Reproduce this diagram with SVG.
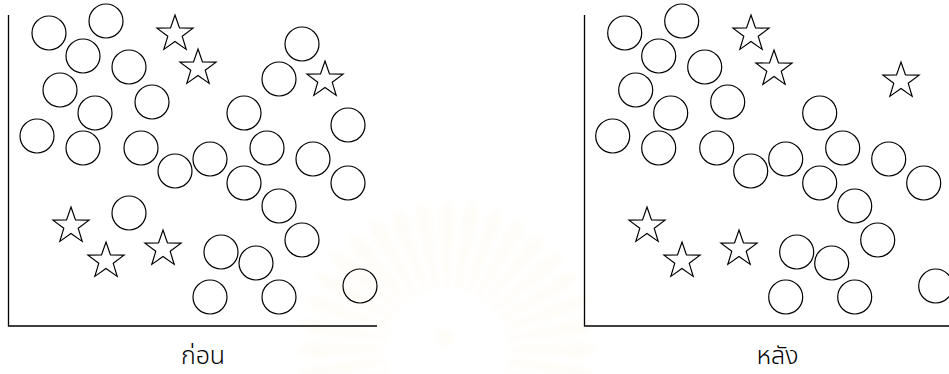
<svg xmlns="http://www.w3.org/2000/svg" xmlns:xlink="http://www.w3.org/1999/xlink" width="949" height="374" viewBox="0 0 949 374">
<style>
.c{fill:none;stroke:#000;stroke-width:1.2}
.s{fill:none;stroke:#000;stroke-width:1.2;stroke-linejoin:miter}
.ax{fill:none;stroke:#000;stroke-width:1.3}
.lbl{font-family:"Noto Sans Thai","Tahoma","DejaVu Sans","Noto Sans",sans-serif;font-size:25px;font-weight:300;fill:#000;text-anchor:middle}
</style>
<defs>
<path id="star" d="M0,-19 L4.47,-6.15 L18.07,-5.87 L7.23,2.35 L11.17,15.37 L0,7.6 L-11.17,15.37 L-7.23,2.35 L-18.07,-5.87 L-4.47,-6.15 Z"/>
<path id="ray" d="M-3,-62 L-8,-138 L0,-152 L8,-138 L3,-62 Z"/>
<radialGradient id="rg" cx="447" cy="350" r="155" gradientUnits="userSpaceOnUse">
<stop offset="0.35" stop-color="#f3d89a"/>
<stop offset="0.7" stop-color="#f9efd2"/>
<stop offset="1" stop-color="#fdfaf1"/>
</radialGradient>
<filter id="blur" x="-20%" y="-20%" width="140%" height="140%"><feGaussianBlur stdDeviation="2.5"/></filter>
</defs>
<rect width="949" height="374" fill="#fff"/>
<g id="watermark" fill="url(#rg)" filter="url(#blur)" opacity="0.5">
<g transform="translate(447,350)">
<use xlink:href="#ray" transform="rotate(-110)"/>
<use xlink:href="#ray" transform="rotate(-100)"/>
<use xlink:href="#ray" transform="rotate(-90)"/>
<use xlink:href="#ray" transform="rotate(-80)"/>
<use xlink:href="#ray" transform="rotate(-70)"/>
<use xlink:href="#ray" transform="rotate(-60)"/>
<use xlink:href="#ray" transform="rotate(-50)"/>
<use xlink:href="#ray" transform="rotate(-40)"/>
<use xlink:href="#ray" transform="rotate(-30)"/>
<use xlink:href="#ray" transform="rotate(-20)"/>
<use xlink:href="#ray" transform="rotate(-10)"/>
<use xlink:href="#ray" transform="rotate(0)"/>
<use xlink:href="#ray" transform="rotate(10)"/>
<use xlink:href="#ray" transform="rotate(20)"/>
<use xlink:href="#ray" transform="rotate(30)"/>
<use xlink:href="#ray" transform="rotate(40)"/>
<use xlink:href="#ray" transform="rotate(50)"/>
<use xlink:href="#ray" transform="rotate(60)"/>
<use xlink:href="#ray" transform="rotate(70)"/>
<use xlink:href="#ray" transform="rotate(80)"/>
<use xlink:href="#ray" transform="rotate(90)"/>
<use xlink:href="#ray" transform="rotate(100)"/>
<use xlink:href="#ray" transform="rotate(110)"/>
<circle cx="-2" cy="-12" r="9"/>
</g>
</g>
<g id="before">
<path class="ax" d="M8.5,15 V326 H377"/>
<g id="before-circles">
<circle class="c" cx="49" cy="33" r="17"/>
<circle class="c" cx="106" cy="21" r="17"/>
<circle class="c" cx="83" cy="56" r="17"/>
<circle class="c" cx="129" cy="67" r="17"/>
<circle class="c" cx="60" cy="90" r="17"/>
<circle class="c" cx="152" cy="102" r="17"/>
<circle class="c" cx="95" cy="113" r="17"/>
<circle class="c" cx="37" cy="136" r="17"/>
<circle class="c" cx="83" cy="148" r="17"/>
<circle class="c" cx="141" cy="148" r="17"/>
<circle class="c" cx="175" cy="171" r="17"/>
<circle class="c" cx="210" cy="159" r="17"/>
<circle class="c" cx="244" cy="113" r="17"/>
<circle class="c" cx="279" cy="79" r="17"/>
<circle class="c" cx="302" cy="44" r="17"/>
<circle class="c" cx="348" cy="125" r="17"/>
<circle class="c" cx="267" cy="148" r="17"/>
<circle class="c" cx="313" cy="159" r="17"/>
<circle class="c" cx="244" cy="183" r="17"/>
<circle class="c" cx="348" cy="183" r="17"/>
<circle class="c" cx="279" cy="206" r="17"/>
<circle class="c" cx="302" cy="240" r="17"/>
<circle class="c" cx="129" cy="213" r="17"/>
<circle class="c" cx="221" cy="252" r="17"/>
<circle class="c" cx="256" cy="263" r="17"/>
<circle class="c" cx="210" cy="297" r="17"/>
<circle class="c" cx="279" cy="297" r="17"/>
<circle class="c" cx="360" cy="286" r="17"/>
</g>
<g id="before-stars">
<use class="s" xlink:href="#star" x="175" y="34"/>
<use class="s" xlink:href="#star" x="198" y="68"/>
<use class="s" xlink:href="#star" x="325" y="80"/>
<use class="s" xlink:href="#star" x="71" y="226"/>
<use class="s" xlink:href="#star" x="106" y="261"/>
<use class="s" xlink:href="#star" x="163" y="249"/>
</g>
<text class="lbl" x="203" y="364">ก่อน</text>
</g>
<g id="after">
<path class="ax" d="M584.5,15 V326 H949"/>
<g id="after-circles" transform="translate(575.7,0)">
<circle class="c" cx="49" cy="33" r="17"/>
<circle class="c" cx="106" cy="21" r="17"/>
<circle class="c" cx="83" cy="56" r="17"/>
<circle class="c" cx="129" cy="67" r="17"/>
<circle class="c" cx="60" cy="90" r="17"/>
<circle class="c" cx="152" cy="102" r="17"/>
<circle class="c" cx="95" cy="113" r="17"/>
<circle class="c" cx="37" cy="136" r="17"/>
<circle class="c" cx="83" cy="148" r="17"/>
<circle class="c" cx="141" cy="148" r="17"/>
<circle class="c" cx="175" cy="171" r="17"/>
<circle class="c" cx="210" cy="159" r="17"/>
<circle class="c" cx="244" cy="113" r="17"/>
<circle class="c" cx="267" cy="148" r="17"/>
<circle class="c" cx="313" cy="159" r="17"/>
<circle class="c" cx="244" cy="183" r="17"/>
<circle class="c" cx="348" cy="183" r="17"/>
<circle class="c" cx="279" cy="206" r="17"/>
<circle class="c" cx="302" cy="240" r="17"/>
<circle class="c" cx="221" cy="252" r="17"/>
<circle class="c" cx="256" cy="263" r="17"/>
<circle class="c" cx="210" cy="297" r="17"/>
<circle class="c" cx="279" cy="297" r="17"/>
<circle class="c" cx="360" cy="286" r="17"/>
</g>
<g id="after-stars">
<use class="s" xlink:href="#star" x="751" y="34"/>
<use class="s" xlink:href="#star" x="774" y="69"/>
<use class="s" xlink:href="#star" x="901" y="81"/>
<use class="s" xlink:href="#star" x="647" y="226"/>
<use class="s" xlink:href="#star" x="682" y="261"/>
<use class="s" xlink:href="#star" x="739" y="249"/>
</g>
<text class="lbl" x="777.5" y="364">หลัง</text>
</g>
</svg>
